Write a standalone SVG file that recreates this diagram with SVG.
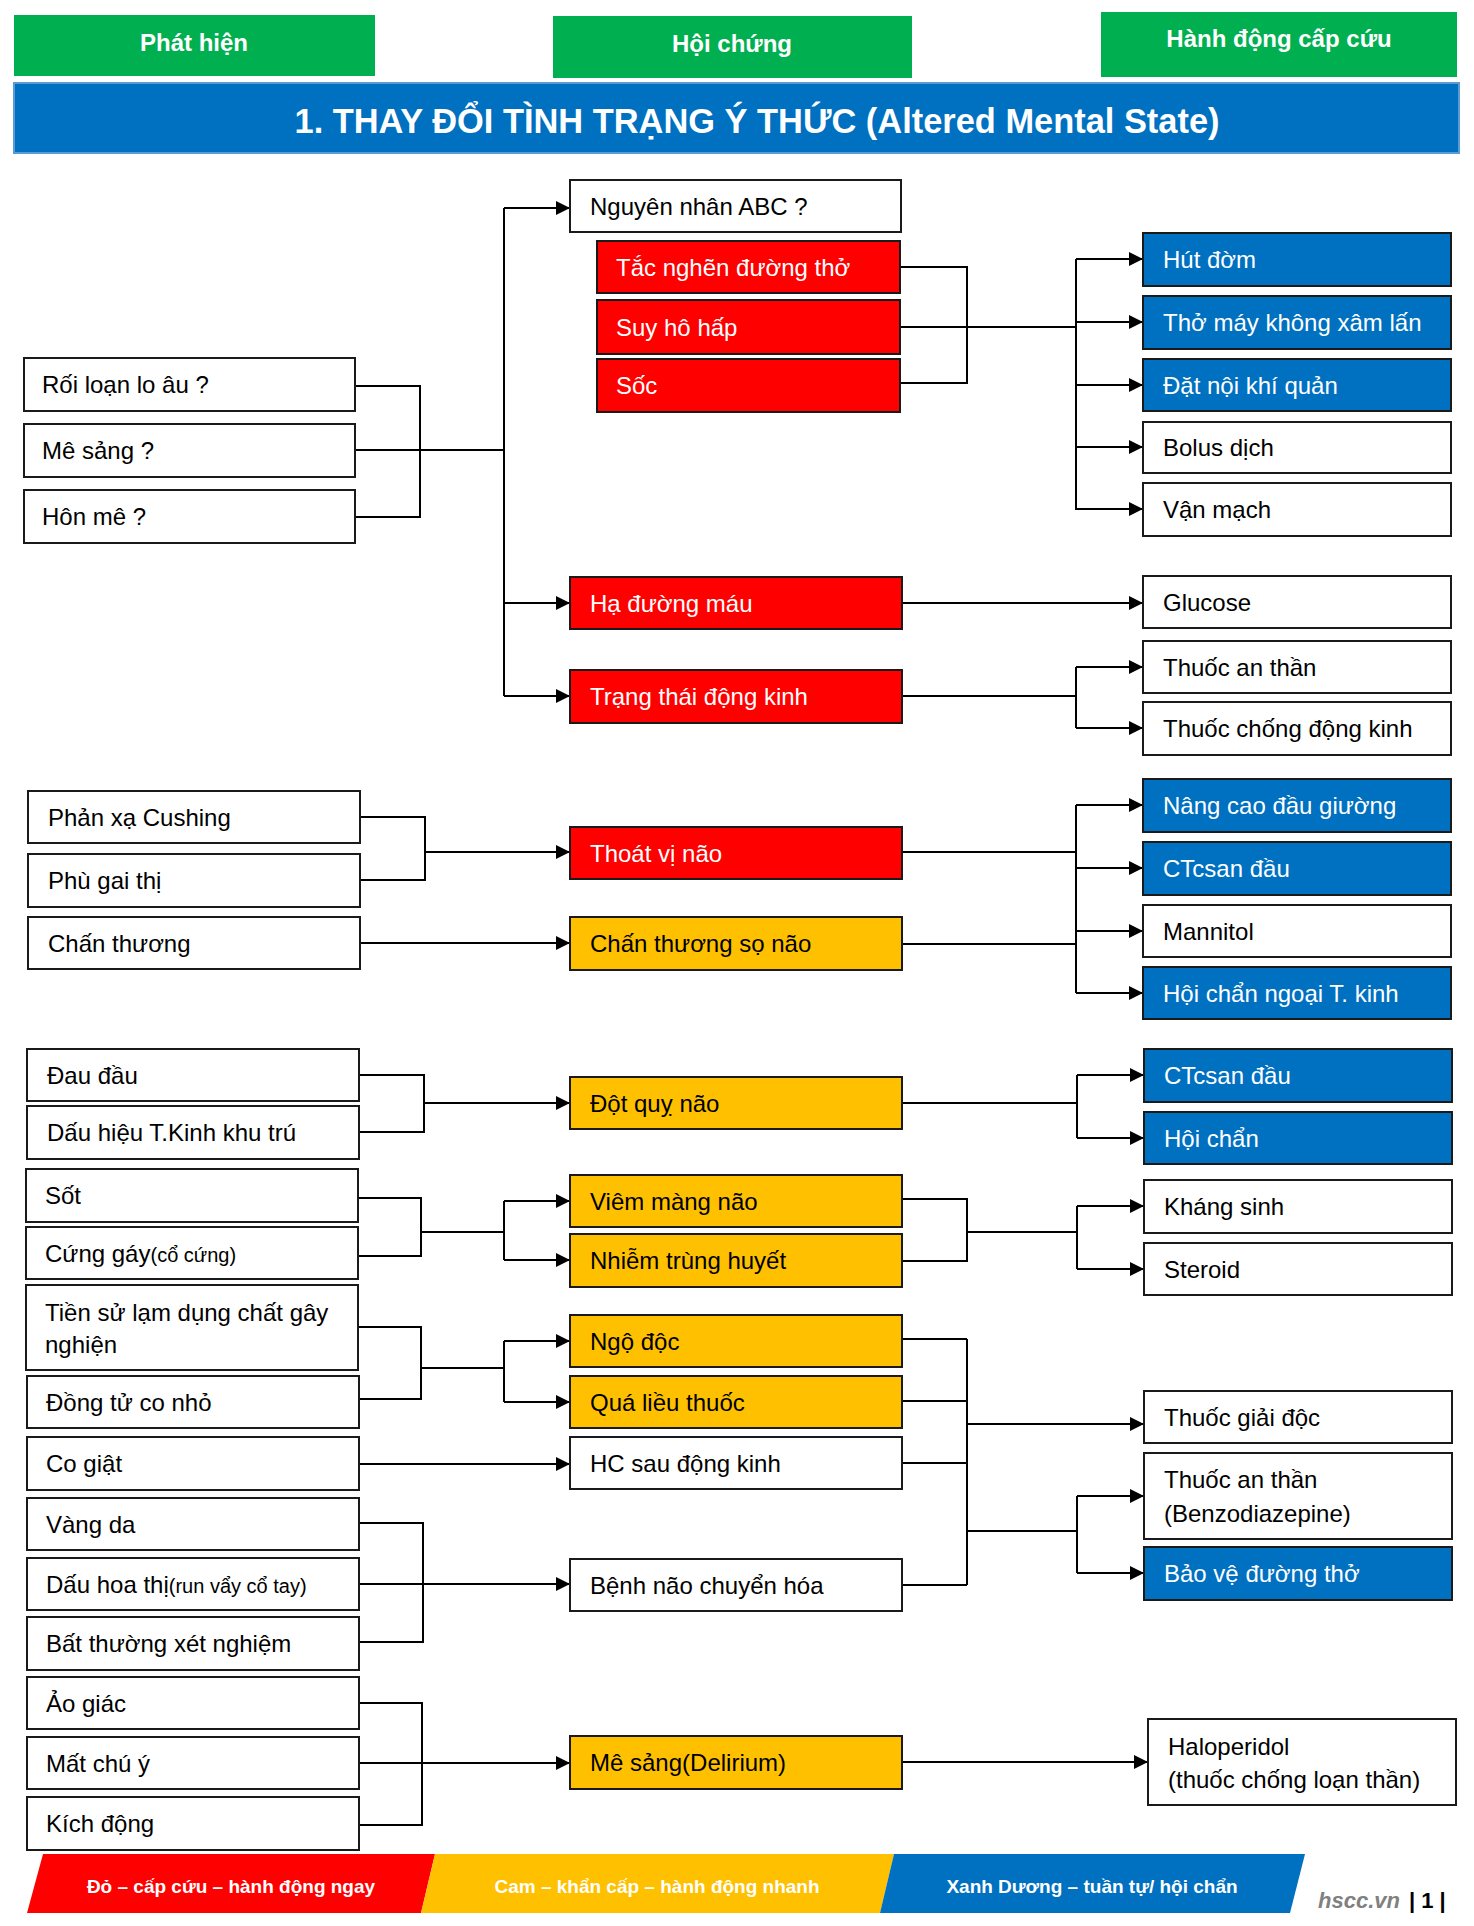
<svg xmlns="http://www.w3.org/2000/svg" width="1474" height="1926" viewBox="0 0 1474 1926">
<style>
.bx{stroke:#1a1a1a;stroke-width:2}
.w{fill:#fff}.r{fill:#FF0000}.y{fill:#FFC000}.b{fill:#0070C0}
.t{font-family:"Liberation Sans",Arial,sans-serif;font-size:24px;fill:#000}
.tw{fill:#fff}
.h{font-family:"Liberation Sans",Arial,sans-serif;font-size:24px;font-weight:bold;fill:#fff;text-anchor:middle}
.lg{font-family:"Liberation Sans",Arial,sans-serif;font-size:19px;font-weight:bold;fill:#fff;text-anchor:middle}
.c{fill:none;stroke:#000;stroke-width:2}
.a{fill:none;stroke:#000;stroke-width:2;marker-end:url(#arr)}
.sm{font-size:20px}
</style>
<defs>
<marker id="arr" markerUnits="userSpaceOnUse" markerWidth="14" markerHeight="14" refX="14" refY="7" orient="auto">
<path d="M0,0 L14,7 L0,14 z" fill="#000"/>
</marker>
</defs>
<rect width="1474" height="1926" fill="#fff"/>

<g id="header">
<rect x="14" y="15" width="361" height="61" fill="#00B050"/>
<text class="h" x="194" y="51">Phát hiện</text>
<rect x="553" y="16" width="359" height="62" fill="#00B050"/>
<text class="h" x="732" y="52">Hội chứng</text>
<rect x="1101" y="12" width="356" height="65" fill="#00B050"/>
<text class="h" x="1279" y="47">Hành động cấp cứu</text>
<rect x="14" y="83" width="1445" height="70" fill="#0070C0" stroke="#5B9BD5" stroke-width="2"/>
<text x="757" y="133" font-family="Liberation Sans, Arial, sans-serif" font-size="35" font-weight="bold" fill="#fff" text-anchor="middle" textLength="925" lengthAdjust="spacingAndGlyphs">1. THAY ĐỔI TÌNH TRẠNG Ý THỨC (Altered Mental State)</text>
</g>

<g id="connectors">
<path class="c" d="M355,386 H420 V517 H355 M355,450 H504 M504,208 V696"/>
<path class="a" d="M504,208 H570"/>
<path class="a" d="M504,603 H570"/>
<path class="a" d="M504,696 H570"/>
<path class="c" d="M900,267 H967 V383 H901 M900,327 H1076 M1076,259 V510"/>
<path class="a" d="M1076,259 H1143"/>
<path class="a" d="M1076,322 H1143"/>
<path class="a" d="M1076,385 H1143"/>
<path class="a" d="M1076,447 H1143"/>
<path class="a" d="M1076,509 H1143"/>
<path class="a" d="M902,603 H1143"/>
<path class="c" d="M902,696 H1076 M1076,667 V728"/>
<path class="a" d="M1076,667 H1143"/>
<path class="a" d="M1076,728 H1143"/>
<path class="c" d="M360,817 H425 V880 H360"/>
<path class="a" d="M425,852 H570"/>
<path class="a" d="M360,943 H570"/>
<path class="c" d="M902,852 H1076 M902,944 H1076 M1076,805 V993"/>
<path class="a" d="M1076,805 H1143"/>
<path class="a" d="M1076,868 H1143"/>
<path class="a" d="M1076,931 H1143"/>
<path class="a" d="M1076,993 H1143"/>
<path class="c" d="M359,1075 H424 V1132 H359"/>
<path class="a" d="M424,1103 H570"/>
<path class="c" d="M902,1103 H1077 M1077,1075 V1138"/>
<path class="a" d="M1077,1075 H1144"/>
<path class="a" d="M1077,1138 H1144"/>
<path class="c" d="M358,1198 H421 V1256 H358 M421,1232 H504 M504,1201 V1260"/>
<path class="a" d="M504,1201 H570"/>
<path class="a" d="M504,1260 H570"/>
<path class="c" d="M902,1199 H967 V1261 H902 M967,1232 H1077 M1077,1206 V1269"/>
<path class="a" d="M1077,1206 H1144"/>
<path class="a" d="M1077,1269 H1144"/>
<path class="c" d="M358,1327 H421 V1399 H359 M421,1368 H504 M504,1341 V1402"/>
<path class="a" d="M504,1341 H570"/>
<path class="a" d="M504,1402 H570"/>
<path class="a" d="M359,1464 H570"/>
<path class="c" d="M359,1523 H423 V1642 H359"/>
<path class="a" d="M359,1584 H570"/>
<path class="c" d="M359,1703 H422 V1825 H359"/>
<path class="a" d="M359,1763 H570"/>
<path class="c" d="M902,1339 H967 M902,1401 H967 M902,1463 H967 M902,1585 H967 M967,1339 V1585 M967,1531 H1077 M1077,1496 V1573"/>
<path class="a" d="M967,1424 H1144"/>
<path class="a" d="M1077,1496 H1144"/>
<path class="a" d="M1077,1573 H1144"/>
<path class="a" d="M902,1762 H1148"/>
</g>

<g id="n_roi"><rect class="bx w" x="24" y="358" width="331" height="53"/><text class="t" x="42" y="393">Rối loạn lo âu ?</text></g>
<g id="n_mesang"><rect class="bx w" x="24" y="424" width="331" height="53"/><text class="t" x="42" y="459">Mê sảng ?</text></g>
<g id="n_honme"><rect class="bx w" x="24" y="490" width="331" height="53"/><text class="t" x="42" y="525">Hôn mê ?</text></g>
<g id="n_phanxa"><rect class="bx w" x="28" y="791" width="332" height="52"/><text class="t" x="48" y="826">Phản xạ Cushing</text></g>
<g id="n_phugai"><rect class="bx w" x="28" y="854" width="332" height="53"/><text class="t" x="48" y="889">Phù gai thị</text></g>
<g id="n_chanthuong"><rect class="bx w" x="28" y="917" width="332" height="52"/><text class="t" x="48" y="952">Chấn thương</text></g>
<g id="n_daudau"><rect class="bx w" x="27" y="1049" width="332" height="52"/><text class="t" x="47" y="1084">Đau đầu</text></g>
<g id="n_dauhieu"><rect class="bx w" x="27" y="1106" width="332" height="53"/><text class="t" x="47" y="1141">Dấu hiệu T.Kinh khu trú</text></g>
<g id="n_sot"><rect class="bx w" x="26" y="1169" width="332" height="53"/><text class="t" x="45" y="1204">Sốt</text></g>
<g id="n_cunggay"><rect class="bx w" x="26" y="1227" width="332" height="52"/><text class="t" x="45" y="1262">Cứng gáy<tspan class="sm">(cổ cứng)</tspan></text></g>
<g id="n_tiensu"><rect class="bx w" x="26" y="1285" width="332" height="85"/><text class="t" x="45" y="1321">Tiền sử lạm dụng chất gây</text><text class="t" x="45" y="1353">nghiện</text></g>
<g id="n_dongtu"><rect class="bx w" x="27" y="1376" width="332" height="52"/><text class="t" x="46" y="1411">Đồng tử co nhỏ</text></g>
<g id="n_cogiat"><rect class="bx w" x="27" y="1437" width="332" height="53"/><text class="t" x="46" y="1472">Co giật</text></g>
<g id="n_vangda"><rect class="bx w" x="27" y="1498" width="332" height="52"/><text class="t" x="46" y="1533">Vàng da</text></g>
<g id="n_dauhoa"><rect class="bx w" x="27" y="1558" width="332" height="52"/><text class="t" x="46" y="1593">Dấu hoa thị<tspan class="sm">(run vẩy cổ tay)</tspan></text></g>
<g id="n_batthuong"><rect class="bx w" x="27" y="1617" width="332" height="53"/><text class="t" x="46" y="1652">Bất thường xét nghiệm</text></g>
<g id="n_aogiac"><rect class="bx w" x="27" y="1677" width="332" height="52"/><text class="t" x="46" y="1712">Ảo giác</text></g>
<g id="n_matchu"><rect class="bx w" x="27" y="1737" width="332" height="52"/><text class="t" x="46" y="1772">Mất chú ý</text></g>
<g id="n_kichdong"><rect class="bx w" x="27" y="1797" width="332" height="53"/><text class="t" x="46" y="1832">Kích động</text></g>

<g id="s_abc"><rect class="bx w" x="570" y="180" width="331" height="52"/><text class="t" x="590" y="215">Nguyên nhân ABC ?</text></g>
<g id="s_tacnghen"><rect class="bx r" x="597" y="241" width="303" height="52"/><text class="t tw" x="616" y="276">Tắc nghẽn đường thở</text></g>
<g id="s_suyho"><rect class="bx r" x="597" y="300" width="303" height="54"/><text class="t tw" x="616" y="336">Suy hô hấp</text></g>
<g id="s_soc"><rect class="bx r" x="597" y="359" width="303" height="53"/><text class="t tw" x="616" y="394">Sốc</text></g>
<g id="s_hadm"><rect class="bx r" x="570" y="577" width="332" height="52"/><text class="t tw" x="590" y="612">Hạ đường máu</text></g>
<g id="s_trangthai"><rect class="bx r" x="570" y="670" width="332" height="53"/><text class="t tw" x="590" y="705">Trạng thái động kinh</text></g>
<g id="s_thoatvi"><rect class="bx r" x="570" y="827" width="332" height="52"/><text class="t tw" x="590" y="862">Thoát vị não</text></g>
<g id="s_ctsn"><rect class="bx y" x="570" y="917" width="332" height="53"/><text class="t" x="590" y="952">Chấn thương sọ não</text></g>
<g id="s_dotquy"><rect class="bx y" x="570" y="1077" width="332" height="52"/><text class="t" x="590" y="1112">Đột quỵ não</text></g>
<g id="s_viem"><rect class="bx y" x="570" y="1175" width="332" height="52"/><text class="t" x="590" y="1210">Viêm màng não</text></g>
<g id="s_nhiem"><rect class="bx y" x="570" y="1234" width="332" height="53"/><text class="t" x="590" y="1269">Nhiễm trùng huyết</text></g>
<g id="s_ngodoc"><rect class="bx y" x="570" y="1315" width="332" height="52"/><text class="t" x="590" y="1350">Ngộ độc</text></g>
<g id="s_qualieu"><rect class="bx y" x="570" y="1376" width="332" height="52"/><text class="t" x="590" y="1411">Quá liều thuốc</text></g>
<g id="s_hcsau"><rect class="bx w" x="570" y="1437" width="332" height="52"/><text class="t" x="590" y="1472">HC sau động kinh</text></g>
<g id="s_benhnao"><rect class="bx w" x="570" y="1559" width="332" height="52"/><text class="t" x="590" y="1594">Bệnh não chuyển hóa</text></g>
<g id="s_delirium"><rect class="bx y" x="570" y="1736" width="332" height="53"/><text class="t" x="590" y="1771">Mê sảng(Delirium)</text></g>

<g id="a_hut"><rect class="bx b" x="1143" y="233" width="308" height="53"/><text class="t tw" x="1163" y="268">Hút đờm</text></g>
<g id="a_thomay"><rect class="bx b" x="1143" y="296" width="308" height="53"/><text class="t tw" x="1163" y="331">Thở máy không xâm lấn</text></g>
<g id="a_dat"><rect class="bx b" x="1143" y="359" width="308" height="52"/><text class="t tw" x="1163" y="394">Đặt nội khí quản</text></g>
<g id="a_bolus"><rect class="bx w" x="1143" y="422" width="308" height="51"/><text class="t" x="1163" y="456">Bolus dịch</text></g>
<g id="a_vanmach"><rect class="bx w" x="1143" y="483" width="308" height="53"/><text class="t" x="1163" y="518">Vận mạch</text></g>
<g id="a_glucose"><rect class="bx w" x="1143" y="576" width="308" height="52"/><text class="t" x="1163" y="611">Glucose</text></g>
<g id="a_anthan"><rect class="bx w" x="1143" y="641" width="308" height="52"/><text class="t" x="1163" y="676">Thuốc an thần</text></g>
<g id="a_chongdk"><rect class="bx w" x="1143" y="702" width="308" height="53"/><text class="t" x="1163" y="737">Thuốc chống động kinh</text></g>
<g id="a_nangcao"><rect class="bx b" x="1143" y="779" width="308" height="53"/><text class="t tw" x="1163" y="814">Nâng cao đầu giường</text></g>
<g id="a_ct1"><rect class="bx b" x="1143" y="842" width="308" height="53"/><text class="t tw" x="1163" y="877">CTcsan đầu</text></g>
<g id="a_mannitol"><rect class="bx w" x="1143" y="905" width="308" height="52"/><text class="t" x="1163" y="940">Mannitol</text></g>
<g id="a_hoichanngoai"><rect class="bx b" x="1143" y="967" width="308" height="52"/><text class="t tw" x="1163" y="1002">Hội chẩn ngoại T. kinh</text></g>
<g id="a_ct2"><rect class="bx b" x="1144" y="1049" width="308" height="53"/><text class="t tw" x="1164" y="1084">CTcsan đầu</text></g>
<g id="a_hoichan"><rect class="bx b" x="1144" y="1112" width="308" height="52"/><text class="t tw" x="1164" y="1147">Hội chẩn</text></g>
<g id="a_khangsinh"><rect class="bx w" x="1144" y="1180" width="308" height="53"/><text class="t" x="1164" y="1215">Kháng sinh</text></g>
<g id="a_steroid"><rect class="bx w" x="1144" y="1243" width="308" height="52"/><text class="t" x="1164" y="1278">Steroid</text></g>
<g id="a_giaidoc"><rect class="bx w" x="1144" y="1391" width="308" height="52"/><text class="t" x="1164" y="1426">Thuốc giải độc</text></g>
<g id="a_benzo"><rect class="bx w" x="1144" y="1453" width="308" height="86"/><text class="t" x="1164" y="1488">Thuốc an thần</text><text class="t" x="1164" y="1522">(Benzodiazepine)</text></g>
<g id="a_baove"><rect class="bx b" x="1144" y="1547" width="308" height="53"/><text class="t tw" x="1164" y="1582">Bảo vệ đường thở</text></g>
<g id="a_halo"><rect class="bx w" x="1148" y="1719" width="308" height="86"/><text class="t" x="1168" y="1755">Haloperidol</text><text class="t" x="1168" y="1788">(thuốc chống loạn thần)</text></g>

<g id="legend">
<polygon points="43,1854 435,1854 421,1913 27,1913" fill="#FF0000"/>
<polygon points="435,1854 894,1854 880,1913 421,1913" fill="#FFC000"/>
<polygon points="894,1854 1305,1854 1290,1913 880,1913" fill="#0070C0"/>
<text class="lg" x="231" y="1893">Đỏ – cấp cứu – hành động ngay</text>
<text class="lg" x="657" y="1893">Cam – khẩn cấp – hành động nhanh</text>
<text class="lg" x="1092" y="1893">Xanh Dương – tuần tự/ hội chẩn</text>
<text x="1318" y="1908" font-family="Liberation Sans, Arial, sans-serif" font-size="22" font-weight="bold" font-style="italic" fill="#808080">hscc.vn</text>
<text x="1409" y="1908" font-family="Liberation Sans, Arial, sans-serif" font-size="22" font-weight="bold" fill="#000">| 1 |</text>
</g>
</svg>
